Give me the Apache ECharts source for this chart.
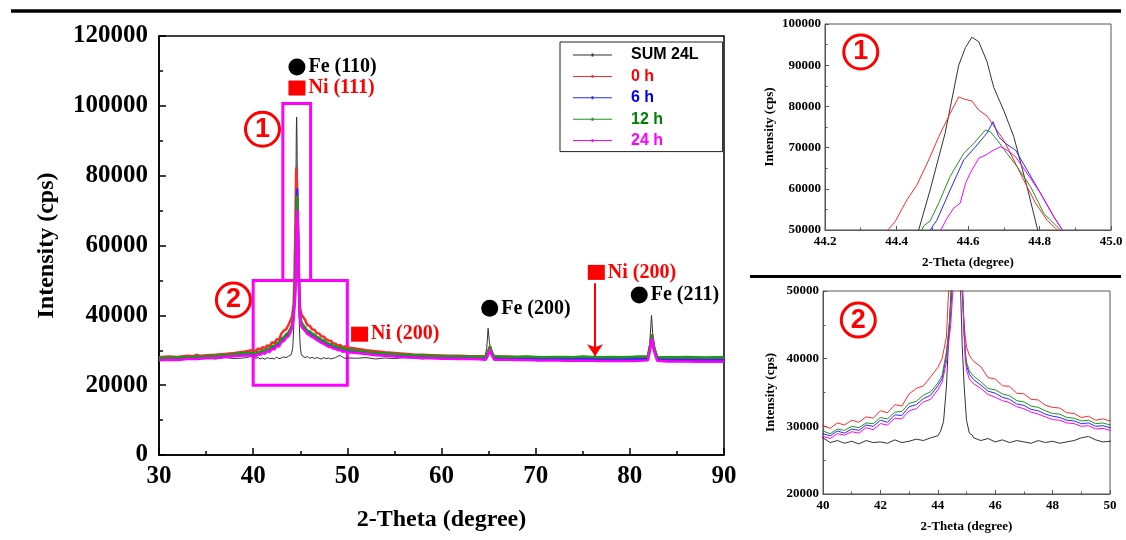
<!DOCTYPE html>
<html>
<head>
<meta charset="utf-8">
<script src="https://cdn.jsdelivr.net/npm/echarts/dist/echarts.min.js"></script>
<style>html,body{margin:0;padding:0;background:#fff}#chart{width:1126px;height:540px}</style>
</head>
<body>
<div id="chart"></div>
<script>
// 2-Theta positions
var tailLeftX = [40, 40.25, 40.5, 40.75, 41, 41.25, 41.5, 41.75, 42, 42.25, 42.5, 42.75, 43, 43.25, 43.5, 43.75, 44];
var tailRightX = [45.25, 45.5, 45.75, 46, 46.25, 46.5, 46.75, 47, 47.25, 47.5, 47.75, 48, 48.25, 48.5, 48.75, 49, 49.25, 49.5, 49.75, 50];
var wideLeftX = [30, 31, 32, 33, 34, 35, 36, 37, 38, 39];
var wideRightX = [51, 52, 53, 54, 55, 56, 57, 58, 59, 60, 61, 62, 63, 64,
    66, 67, 68, 69, 70, 71, 72, 73, 74, 75, 76, 77, 78, 79, 80, 81,
    83, 84, 85, 86, 87, 88, 89, 90];

var seriesNames = ['SUM 24L', '0 h', '6 h', '12 h', '24 h'];

// SUM 24L
var sumWideL = [28100, 27700, 28000, 27600, 28900, 27800, 27500, 27900, 27600, 27800];
var sumTailL = [28300, 27600, 27900, 27500, 27800, 27400, 27900, 27600, 27700, 27500, 28000, 27600, 27800, 28100, 27900, 28300, 28600];
var sumTailR = [28300, 27900, 28200, 27700, 28000, 27600, 27900, 27700, 27500, 27900, 27600, 27800, 27500, 27700, 27900, 28300, 28500, 28000, 27700, 27800];
var sumWideR = [27700, 27900, 27500, 27800, 27600, 27900, 27700, 27500, 27800, 27600, 27900, 27700, 27600, 27900,
    27800, 27600, 27900, 27700, 27500, 27800, 27900, 27600, 27700, 27900, 27500, 27800, 27600, 27900, 27700, 28000,
    27900, 27600, 27800, 27700, 27500, 27800, 27600, 27700];
var sumPeaks = [[44.1, 29300], [44.2, 30700], [44.3, 35800], [44.4, 45000], [44.462, 50000], [44.494, 59700], [44.536, 73500],
    [44.574, 90000], [44.593, 94300], [44.611, 96800], [44.63, 95700], [44.653, 90900], [44.672, 84600], [44.7, 79000],
    [44.728, 72700], [44.765, 60500], [44.795, 50000], [44.85, 42000], [44.92, 35800], [45.0, 30900], [45.1, 29000], [45.2, 28700],
    [64.6, 28000], [64.8, 30500], [64.95, 36300], [65.1, 32000], [65.4, 28200],
    [81.9, 28300], [82.1, 31500], [82.3, 40000], [82.45, 34000], [82.8, 28500]];

// 0 h
var h0WideL = [28000, 28200, 28100, 28400, 28300, 28600, 28700, 28900, 29200, 29600];
var h0TailL = [30100, 29700, 30500, 30200, 30900, 30600, 31400, 31200, 32300, 32000, 33200, 33000, 34800, 35600, 36000, 37300, 38700];
var h0TailR = [39600, 38800, 37200, 37000, 36000, 35900, 34900, 34800, 34000, 33900, 33100, 32800, 32700, 32000, 31900, 31300, 31500, 30900, 31100, 30800];
var h0WideR = [30400, 30000, 29700, 29400, 29200, 29000, 28800, 28700, 28600, 28500, 28400, 28400, 28300, 28300,
    28200, 28200, 28100, 28100, 28000, 28000, 28000, 27900, 27900, 27900, 27800, 27800, 27800, 27800, 27700, 27800,
    27800, 27700, 27700, 27600, 27600, 27600, 27500, 27500];
var h0Peaks = [[44.15, 40000], [44.3, 43200], [44.376, 50000], [44.396, 52000], [44.429, 57300], [44.457, 60900], [44.49, 67000],
    [44.518, 72600], [44.55, 78300], [44.574, 82300], [44.588, 81800], [44.611, 81300], [44.63, 79100], [44.653, 77700],
    [44.677, 74700], [44.7, 71800], [44.728, 67000], [44.756, 62100], [44.789, 56500], [44.821, 52400], [44.845, 50400],
    [44.9, 46500], [44.95, 43500], [45.0, 41700], [45.1, 40500], [45.2, 39900],
    [64.7, 28200], [64.9, 29200], [65.15, 31200], [65.35, 29300], [65.6, 28200],
    [81.9, 28000], [82.1, 30500], [82.35, 34500], [82.55, 31000], [82.9, 27900]];

// 6 h
var h6WideL = [27500, 27700, 27600, 27900, 27800, 28000, 28200, 28400, 28600, 28800];
var h6TailL = [28900, 28600, 29300, 29000, 29600, 29400, 30200, 30000, 30900, 30600, 31700, 31600, 32900, 33200, 34100, 34600, 36000];
var h6TailR = [36900, 36100, 35200, 34900, 34300, 34000, 33300, 33100, 32500, 32300, 31800, 31500, 31300, 30900, 30800, 30400, 30500, 30000, 30100, 29800];
var h6WideR = [29600, 29300, 29000, 28800, 28600, 28400, 28300, 28200, 28100, 28000, 28000, 27900, 27900, 27800,
    27800, 27700, 27700, 27600, 27600, 27600, 27500, 27500, 27500, 27500, 27400, 27400, 27400, 27400, 27400, 27500,
    27400, 27300, 27300, 27300, 27200, 27200, 27200, 27200];
var h6Peaks = [[44.15, 37000], [44.3, 40500], [44.43, 45500], [44.494, 50000], [44.513, 52400], [44.55, 59700], [44.588, 67000],
    [44.621, 70200], [44.653, 73500], [44.67, 76300], [44.686, 72600], [44.705, 71000], [44.733, 69400], [44.765, 64600],
    [44.803, 58900], [44.84, 53200], [44.864, 50000], [44.91, 44500], [44.96, 40500], [45.0, 39000], [45.1, 37700],
    [64.7, 27700], [64.9, 28800], [65.15, 30600], [65.35, 28900], [65.6, 27700],
    [81.9, 27500], [82.1, 30000], [82.35, 34000], [82.55, 30500], [82.9, 27400]];

// 12 h
var h12WideL = [27800, 27900, 27900, 28100, 28100, 28300, 28400, 28600, 28900, 29200];
var h12TailL = [29300, 28900, 29600, 29400, 30000, 29800, 30500, 30400, 31300, 31100, 32100, 32200, 33400, 33700, 34600, 35100, 36400];
var h12TailR = [37400, 36600, 35600, 35400, 34800, 34500, 33800, 33600, 33000, 32800, 32300, 31900, 31800, 31300, 31200, 30800, 30900, 30400, 30500, 30200];
var h12WideR = [29900, 29600, 29300, 29100, 28900, 28700, 28600, 28500, 28400, 28300, 28300, 28200, 28200, 28100,
    28200, 28100, 28100, 28200, 28100, 28000, 28100, 28100, 28000, 28200, 28100, 28000, 28100, 28000, 28100, 28200,
    28100, 28000, 28000, 28100, 28000, 27900, 28000, 28000];
var h12Peaks = [[44.15, 37500], [44.3, 41000], [44.42, 46000], [44.471, 50000], [44.476, 51000], [44.494, 52200], [44.518, 56500],
    [44.55, 63000], [44.588, 68600], [44.616, 71000], [44.649, 74300], [44.663, 73800], [44.682, 71800], [44.709, 68600],
    [44.737, 65400], [44.775, 60500], [44.812, 54000], [44.859, 50000], [44.9, 45500], [44.95, 41500], [45.0, 39500], [45.1, 38200],
    [64.7, 28200], [64.9, 29300], [65.15, 31000], [65.35, 29400], [65.6, 28200],
    [81.9, 28200], [82.1, 30600], [82.35, 34500], [82.55, 31000], [82.9, 28100]];

// 24 h
var h24WideL = [27100, 27300, 27200, 27500, 27500, 27700, 27800, 28100, 28300, 28500];
var h24TailL = [28500, 28200, 28900, 28700, 29200, 29000, 29800, 29500, 30400, 30200, 31200, 31100, 32300, 32600, 33600, 34000, 35400];
var h24TailR = [36300, 35600, 34700, 34300, 33800, 33500, 32900, 32600, 32100, 31800, 31400, 31000, 30900, 30500, 30400, 30000, 30100, 29600, 29700, 29400];
var h24WideR = [29200, 28900, 28600, 28400, 28200, 28000, 27900, 27800, 27700, 27600, 27600, 27500, 27500, 27400,
    27300, 27300, 27200, 27200, 27100, 27100, 27100, 27000, 27000, 27000, 27000, 26900, 26900, 26900, 26900, 27000,
    26900, 26800, 26800, 26800, 26700, 26700, 26700, 26700];
var h24Peaks = [[44.15, 36500], [44.3, 39500], [44.45, 45000], [44.524, 50000], [44.541, 52800], [44.56, 55300], [44.578, 56500],
    [44.593, 61300], [44.606, 63800], [44.63, 67400], [44.649, 68200], [44.672, 69400], [44.691, 70200], [44.709, 69400],
    [44.733, 67800], [44.765, 63800], [44.803, 58900], [44.84, 53200], [44.864, 50000], [44.91, 44000], [44.96, 40000],
    [45.0, 38300], [45.1, 37000],
    [64.7, 27300], [64.9, 28400], [65.15, 30200], [65.35, 28500], [65.6, 27300],
    [81.9, 27100], [82.1, 29500], [82.35, 33500], [82.55, 30000], [82.9, 27000]];

// peak labels
var tagNames = ['Fe (110)', 'Ni (111)', 'Ni (200)', 'Fe (200)', 'Ni (200)', 'Fe (211)'];
var tagPhase = ['Fe', 'Ni', 'Ni', 'Fe', 'Ni', 'Fe'];
var tagX = [44.65, 44.65, 51.3, 65.12, 76.44, 81.0];
var tagY = [111100, 105100, 34600, 42000, 52300, 45800];

var arrowX = 76.3;
var arrowFrom = 49200;
var arrowTo = 28300;

// zoom boxes [x1, y1, x2, y2]
var box1 = [43.15, 50000, 46.1, 100700];
var box2 = [40, 20000, 50, 50000];

// circled numbers per panel
var circleText = ['1', '2', '1', '2'];
var circleGrid = [0, 0, 1, 2];
var circleX = [40.99, 37.9, 44.3, 41.23];
var circleY = [93300, 44400, 93200, 45700];

var lineColors = ['#333333', '#ff2a2a', '#2a2aff', '#1c961c', '#ff00ff'];
var textColors = ['#000000', '#ff0000', '#0000ee', '#008000', '#ff00ff'];

function merge(wl, tl, tr, wr, pk) {
    var pts = [];
    wideLeftX.forEach(function (x, i) { pts.push([x, wl[i]]); });
    tailLeftX.forEach(function (x, i) { pts.push([x, tl[i]]); });
    tailRightX.forEach(function (x, i) { pts.push([x, tr[i]]); });
    wideRightX.forEach(function (x, i) { pts.push([x, wr[i]]); });
    pk.forEach(function (p) { pts.push(p); });
    pts.sort(function (a, b) { return a[0] - b[0]; });
    return pts;
}

var allData = [
    merge(sumWideL, sumTailL, sumTailR, sumWideR, sumPeaks),
    merge(h0WideL, h0TailL, h0TailR, h0WideR, h0Peaks),
    merge(h6WideL, h6TailL, h6TailR, h6WideR, h6Peaks),
    merge(h12WideL, h12TailL, h12TailR, h12WideR, h12Peaks),
    merge(h24WideL, h24TailL, h24TailR, h24WideR, h24Peaks)
];

var serif = 'Liberation Serif';
var sans = 'Liberation Sans';

function xAx(grid, min, max, interval, fmt, big) {
    return {
        gridIndex: grid, type: 'value', min: min, max: max, interval: interval,
        axisLine: {lineStyle: {color: big ? '#000' : '#555', width: big ? 1.5 : 1}},
        axisTick: {inside: true, length: big ? 7 : 4, lineStyle: {color: big ? '#000' : '#555', width: big ? 1.5 : 1}},
        minorTick: {show: true, splitNumber: 2, length: big ? 4 : 2.5, lineStyle: {color: big ? '#000' : '#555', width: big ? 1.5 : 1}},
        splitLine: {show: false},
        axisLabel: {color: '#000', fontFamily: serif, fontWeight: 'bold', fontSize: big ? 25 : 13, margin: big ? 9 : 5, formatter: fmt},
        name: '2-Theta (degree)', nameLocation: 'middle', nameGap: big ? 53 : 26,
        nameTextStyle: {color: '#000', fontFamily: serif, fontWeight: 'bold', fontSize: big ? 24 : 13}
    };
}

function yAx(grid, min, max, interval, big, gap) {
    return {
        gridIndex: grid, type: 'value', min: min, max: max, interval: interval,
        axisLine: {lineStyle: {color: big ? '#000' : '#555', width: big ? 1.5 : 1}},
        axisTick: {inside: true, length: big ? 7 : 4, lineStyle: {color: big ? '#000' : '#555', width: big ? 1.5 : 1}},
        minorTick: {show: true, splitNumber: 2, length: big ? 4 : 2.5, lineStyle: {color: big ? '#000' : '#555', width: big ? 1.5 : 1}},
        splitLine: {show: false},
        axisLabel: {color: '#000', fontFamily: serif, fontWeight: 'bold', fontSize: big ? 25 : 13, margin: big ? 11 : 4,
            formatter: function (v) { return String(v); }},
        name: 'Intensity (cps)', nameLocation: 'middle', nameGap: gap,
        nameTextStyle: {color: '#000', fontFamily: serif, fontWeight: 'bold', fontSize: big ? 24 : 13}
    };
}

var plain = function (v) { return String(v); };

var series = [];
[0, 1, 2].forEach(function (g) {
    allData.forEach(function (d, i) {
        series.push({
            name: seriesNames[i], type: 'line', xAxisIndex: g, yAxisIndex: g,
            data: d, symbol: 'none', silent: true, clip: true,
            lineStyle: {color: lineColors[i], width: (g === 0 && i > 0) ? 2.5 : 1},
            itemStyle: {color: lineColors[i]},
            z: 2 + i
        });
    });
});

// peak labels, arrow and zoom boxes on the main panel
series.push({
    type: 'scatter', xAxisIndex: 0, yAxisIndex: 0, silent: true, z: 20,
    data: tagNames.map(function (n, i) {
        var fe = tagPhase[i] === 'Fe';
        return {
            value: [tagX[i], tagY[i]], name: n,
            symbol: fe ? 'circle' : 'rect', symbolSize: fe ? 17 : [17, 15],
            itemStyle: {color: fe ? '#000' : '#ff0000', opacity: 1},
            label: {show: true, position: 'right', distance: 3, formatter: n,
                color: fe ? '#000' : '#ff0000', fontFamily: serif, fontWeight: 'bold', fontSize: 20}
        };
    }),
    markLine: {
        silent: true, symbol: ['none', 'arrow'], symbolSize: 12, label: {show: false},
        lineStyle: {color: '#ff0000', width: 2, type: 'solid'},
        data: [[{coord: [arrowX, arrowFrom]}, {coord: [arrowX, arrowTo]}]]
    },
    markArea: {
        silent: true,
        itemStyle: {color: 'rgba(0,0,0,0)', borderColor: '#ff00ff', borderWidth: 3},
        data: [
            [{xAxis: box1[0], yAxis: box1[1]}, {xAxis: box1[2], yAxis: box1[3]}],
            [{xAxis: box2[0], yAxis: box2[1]}, {xAxis: box2[2], yAxis: box2[3]}]
        ]
    }
});

// circled numbers
circleText.forEach(function (t, i) {
    series.push({
        type: 'scatter', xAxisIndex: circleGrid[i], yAxisIndex: circleGrid[i], silent: true, z: 21,
        data: [{value: [circleX[i], circleY[i]]}],
        symbol: 'circle', symbolSize: 34,
        itemStyle: {color: 'rgba(255,255,255,0)', borderColor: '#ff0000', borderWidth: 3, opacity: 1},
        label: {show: true, position: 'inside', formatter: t, color: '#ff0000',
            fontFamily: sans, fontWeight: 'bold', fontSize: 27}
    });
});

// thin legend line with a small dot in the middle
var legendIcon = 'path://M0,6.5 H40 V7.5 H0 Z M19,5.5 H21 V8.5 H19 Z';

var chart = echarts.init(document.getElementById('chart'));
chart.setOption({
    animation: false,
    backgroundColor: '#fff',
    grid: [
        {left: 159, right: 402, top: 36, bottom: 85, show: true, borderColor: '#000', borderWidth: 1.5, outerBoundsMode: 'none'},
        {left: 825, right: 15, top: 24, bottom: 310, show: true, borderColor: '#555', borderWidth: 1, outerBoundsMode: 'none'},
        {left: 823, right: 16, top: 291, bottom: 46, show: true, borderColor: '#555', borderWidth: 1, outerBoundsMode: 'none'}
    ],
    xAxis: [
        xAx(0, 30, 90, 10, plain, true),
        xAx(1, 44.2, 45.0, 0.2, function (v) { return v.toFixed(1); }, false),
        xAx(2, 40, 50, 2, plain, false)
    ],
    yAxis: [
        yAx(0, 0, 120000, 20000, true, 100),
        yAx(1, 50000, 100000, 10000, false, 49),
        yAx(2, 20000, 50000, 10000, false, 46)
    ],
    legend: {
        left: 560, top: 42, orient: 'vertical', selectedMode: false,
        padding: [5, 24, 3, 13], itemWidth: 39, itemHeight: 14, itemGap: 5.4,
        borderColor: '#222', borderWidth: 1,
        textStyle: {fontFamily: sans, fontWeight: 'bold', fontSize: 16, padding: [0, 0, 0, 14]},
        data: seriesNames.map(function (n, i) {
            return {name: n, icon: legendIcon, textStyle: {color: textColors[i]}};
        })
    },
    graphic: [
        {type: 'line', shape: {x1: 11, y1: 11, x2: 1121, y2: 11}, style: {stroke: '#000', lineWidth: 3.5}},
        {type: 'line', shape: {x1: 750, y1: 276.5, x2: 1121, y2: 276.5}, style: {stroke: '#000', lineWidth: 3}}
    ],
    series: series
});
</script>
</body>
</html>
